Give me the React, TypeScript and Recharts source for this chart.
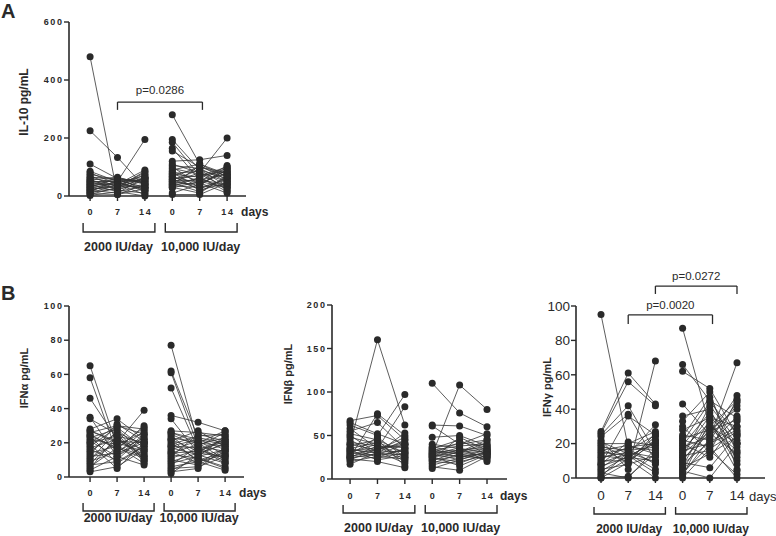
import React from 'react';
import { ScatterChart, Scatter, XAxis, YAxis, ReferenceLine } from 'recharts';

const dayLabels = ['0', '7', '14'];
const groupLabels = ['2000 IU/day', '10,000 IU/day'];
const xTicks = [0, 1, 2, 3, 4, 5];

const il10Ticks = [0, 200, 400, 600];
const ifnaTicks = [0, 20, 40, 60, 80, 100];
const ifnbTicks = [0, 50, 100, 150, 200];
const ifngTicks = [0, 20, 40, 60, 80, 100];

// one row per subject: [day 0, day 7, day 14], pg/mL
const il10Low = [
  [480, 5, 40], [225, 133, 30], [110, 60, 45], [85, 50, 195], [80, 40, 60], [75, 55, 30],
  [70, 30, 85], [65, 60, 20], [62, 45, 70], [58, 20, 55], [55, 65, 40], [52, 35, 80],
  [50, 50, 15], [48, 25, 65], [45, 60, 50], [42, 40, 90], [40, 15, 35], [38, 55, 60],
  [35, 45, 25], [32, 30, 75], [30, 62, 45], [28, 20, 10], [25, 50, 55], [22, 35, 30],
  [20, 10, 65], [18, 45, 20], [15, 55, 50], [12, 25, 40], [10, 40, 5], [8, 5, 25],
  [5, 30, 60], [2, 15, 0],
];
const il10High = [
  [280, 110, 75], [195, 90, 60], [185, 70, 100], [165, 55, 40], [155, 100, 80], [120, 125, 140],
  [110, 80, 200], [105, 95, 50], [100, 40, 90], [95, 75, 30], [90, 110, 65], [85, 50, 105],
  [80, 30, 55], [78, 85, 20], [75, 65, 95], [70, 20, 45], [68, 100, 70], [65, 45, 10],
  [60, 70, 85], [58, 25, 60], [55, 90, 35], [52, 55, 75], [50, 35, 100], [48, 80, 50],
  [45, 15, 65], [42, 60, 25], [40, 45, 80], [38, 105, 55], [35, 30, 40], [32, 65, 15],
  [30, 10, 70], [28, 50, 30], [10, 40, 90], [5, 5, 45],
];

const ifnaLow = [
  [65, 18, 12], [58, 14, 20], [46, 22, 16], [35, 12, 25], [34, 25, 10], [28, 34, 22],
  [27, 20, 39], [26, 30, 28], [25, 16, 30], [24, 8, 18], [23, 28, 14], [22, 19, 26],
  [21, 12, 22], [20, 24, 9], [19, 5, 20], [18, 29, 17], [17, 22, 12], [16, 10, 24],
  [15, 26, 19], [14, 18, 8], [13, 31, 21], [12, 14, 27], [11, 20, 15], [10, 27, 10],
  [9, 15, 23], [8, 22, 13], [7, 9, 18], [6, 17, 11], [5, 24, 20], [4, 12, 7],
  [3, 6, 16], [27, 21, 20], [24, 17, 29], [20, 30, 25],
];
const ifnaHigh = [
  [77, 20, 18], [62, 23, 20], [61, 18, 15], [52, 16, 22], [36, 32, 27], [34, 14, 12],
  [27, 26, 24], [26, 22, 19], [25, 18, 26], [24, 12, 16], [23, 20, 10], [22, 15, 22],
  [21, 27, 18], [20, 10, 14], [19, 24, 25], [18, 17, 8], [17, 13, 20], [16, 21, 13],
  [15, 8, 17], [14, 19, 23], [13, 11, 6], [12, 25, 21], [11, 16, 11], [10, 7, 15],
  [9, 14, 19], [8, 12, 24], [7, 18, 9], [6, 9, 13], [5, 6, 12], [4, 11, 5],
  [3, 5, 17], [2, 13, 8], [26, 20, 27], [22, 9, 4], [18, 22, 16], [14, 15, 21],
];

const ifnbLow = [
  [40, 160, 62], [67, 73, 45], [65, 52, 40], [62, 50, 97], [58, 35, 83], [55, 65, 35],
  [52, 45, 30], [50, 30, 53], [48, 40, 25], [45, 28, 40], [42, 38, 20], [40, 33, 48],
  [38, 45, 15], [36, 25, 35], [35, 42, 30], [34, 30, 45], [33, 22, 27], [32, 36, 38],
  [31, 40, 22], [30, 27, 33], [29, 34, 42], [28, 48, 25], [27, 24, 30], [26, 32, 18],
  [25, 38, 36], [24, 29, 28], [23, 20, 13], [22, 35, 40], [20, 26, 23], [17, 31, 32],
  [25, 75, 50],
];
const ifnbHigh = [
  [110, 76, 60], [28, 108, 80], [62, 61, 50], [61, 40, 45], [48, 50, 38], [40, 35, 30],
  [37, 30, 35], [35, 45, 28], [34, 28, 33], [33, 38, 40], [32, 25, 30], [31, 33, 25],
  [30, 42, 37], [29, 22, 32], [28, 36, 20], [27, 30, 42], [26, 27, 29], [25, 34, 35],
  [24, 20, 27], [23, 48, 33], [22, 26, 24], [21, 32, 38], [20, 18, 30], [18, 29, 22],
  [16, 24, 34], [14, 10, 26], [12, 22, 31], [30, 31, 45], [36, 40, 52], [26, 15, 28],
];

const ifngLow = [
  [95, 18, 20], [27, 61, 43], [26, 56, 42], [25, 42, 15], [24, 37, 10], [8, 36, 25],
  [22, 5, 68], [21, 14, 31], [20, 20, 27], [19, 12, 22], [18, 16, 18], [17, 9, 26],
  [16, 19, 14], [15, 13, 20], [14, 17, 8], [13, 11, 24], [12, 15, 12], [11, 18, 16],
  [10, 10, 21], [9, 14, 5], [8, 21, 19], [7, 12, 10], [6, 16, 25], [5, 8, 13],
  [4, 13, 3], [3, 0, 17], [2, 11, 0], [1, 15, 9], [0, 1, 14], [0, 9, 22],
];
const ifngHigh = [
  [87, 30, 20], [66, 45, 35], [62, 52, 25], [43, 25, 48], [36, 40, 10], [33, 50, 5],
  [30, 15, 46], [28, 35, 30], [25, 22, 44], [24, 47, 15], [23, 28, 40], [22, 18, 0],
  [21, 44, 26], [20, 12, 33], [19, 38, 20], [18, 24, 42], [17, 32, 12], [16, 20, 28],
  [15, 36, 18], [14, 27, 34], [13, 16, 2], [12, 42, 22], [11, 26, 14], [10, 30, 45],
  [9, 6, 25], [8, 21, 30], [7, 34, 8], [6, 14, 24], [5, 29, 16], [4, 0, 20],
  [3, 19, 36], [2, 23, 67], [1, 33, 4], [0, 17, 27],
];

const FONT = '"Liberation Sans", Arial, Helvetica, sans-serif';
const INK = '#2a2a2a';

type Bracket = { x1: number; x2: number; top: number; bottom: number; text: string; offset: number };

type PanelProps = {
  box: { left: number; top: number; width: number; height: number };
  margin: { top: number; right: number; bottom: number; left: number };
  yAxisWidth: number;
  xAxisHeight: number;
  xDomain: [number, number];
  yMax: number;
  yTicks: number[];
  low: number[][];
  high: number[][];
  big?: boolean;
  under: { tickBase: number; brTop: number; brBottom: number; groupBase: number; groupSize: number; daysDx: number };
  brackets?: Bracket[];
};

const toSeries = (rows: number[][], offset: number) =>
  rows.map((r) => r.map((v, i) => ({ x: i + offset, y: v })));

const Dot = (props: any) => <circle cx={props.cx} cy={props.cy} r={3.5} fill={INK} />;

function Panel(p: PanelProps) {
  const plotW = p.box.width - p.margin.left - p.margin.right - p.yAxisWidth;
  const step = plotW / (p.xDomain[1] - p.xDomain[0]);
  const series = [...toSeries(p.low, 0), ...toSeries(p.high, 3)];
  const ls = p.big ? 0 : 1.6;
  const tickFont = p.big
    ? { fontSize: 13.5, fontWeight: 400 }
    : { fontSize: 9, fontWeight: 700, letterSpacing: ls };

  const XTick = (t: any) => {
    const v = t.payload.value as number;
    const axisY = t.y - 5;
    const mid = v % 3 === 1;
    const left = t.x - step - 7;
    const right = t.x + step + 10;
    return (
      <g>
        <text x={t.x + ls / 2} y={axisY + p.under.tickBase} textAnchor="middle" fill={INK} fontFamily={FONT} {...tickFont}>
          {dayLabels[v % 3]}
        </text>
        {mid && (
          <g>
            <path
              d={`M${left},${axisY + p.under.brTop}V${axisY + p.under.brBottom}H${right}V${axisY + p.under.brTop}`}
              fill="none"
              stroke={INK}
              strokeWidth={1.4}
            />
            <text x={t.x + 1} y={axisY + p.under.groupBase} textAnchor="middle" fill={INK} fontFamily={FONT} fontSize={p.under.groupSize} fontWeight={700}>
              {groupLabels[v < 3 ? 0 : 1]}
            </text>
          </g>
        )}
        {v === 5 && (
          <text x={t.x + p.under.daysDx} y={axisY + p.under.tickBase + 1} fill={INK} fontFamily={FONT} fontSize={p.big ? 13 : 12} fontWeight={p.big ? 400 : 700}>
            days
          </text>
        )}
      </g>
    );
  };

  const YTick = (t: any) => (
    <text x={t.x + ls} y={t.y} dy={p.big ? 4.8 : 3.2} textAnchor="end" fill={INK} fontFamily={FONT} {...tickFont}>
      {t.payload.value}
    </text>
  );

  const lineStyle = { stroke: INK, strokeWidth: 1.3 };

  return (
    <div style={{ position: 'absolute', left: p.box.left, top: p.box.top }}>
      <ScatterChart width={p.box.width} height={p.box.height} margin={p.margin}>
        <XAxis
          type="number"
          dataKey="x"
          domain={p.xDomain}
          ticks={xTicks}
          interval={0}
          height={p.xAxisHeight}
          tick={XTick}
          tickSize={5}
          tickMargin={0}
          axisLine={{ stroke: INK, strokeWidth: 1.6 }}
          tickLine={{ stroke: INK, strokeWidth: 1.4 }}
        />
        <YAxis
          type="number"
          dataKey="y"
          domain={[0, p.yMax]}
          ticks={p.yTicks}
          interval={0}
          width={p.yAxisWidth}
          tick={YTick}
          tickSize={5}
          tickMargin={p.big ? 1 : 2}
          axisLine={{ stroke: INK, strokeWidth: 1.6 }}
          tickLine={{ stroke: INK, strokeWidth: 1.4 }}
        />
        {series.map((pts, i) => (
          <Scatter
            key={i}
            data={pts}
            line={{ stroke: '#333', strokeWidth: 0.8 }}
            shape={Dot}
            isAnimationActive={false}
          />
        ))}
        {(p.brackets || []).map((b, i) => [
          <ReferenceLine
            key={`h${i}`}
            segment={[{ x: b.x1, y: b.top }, { x: b.x2, y: b.top }]}
            ifOverflow="visible"
            {...lineStyle}
            label={{ value: b.text, position: 'top', offset: b.offset, fill: INK, fontSize: 11.5, fontFamily: FONT }}
          />,
          <ReferenceLine key={`l${i}`} segment={[{ x: b.x1, y: b.top }, { x: b.x1, y: b.bottom }]} ifOverflow="visible" {...lineStyle} />,
          <ReferenceLine key={`r${i}`} segment={[{ x: b.x2, y: b.top }, { x: b.x2, y: b.bottom }]} ifOverflow="visible" {...lineStyle} />,
        ])}
      </ScatterChart>
    </div>
  );
}

const YTitle = ({ x, y, size, children }: { x: number; y: number; size: number; children: React.ReactNode }) => (
  <text
    transform={`translate(${x},${y}) rotate(-90)`}
    textAnchor="middle"
    dominantBaseline="central"
    fontFamily={FONT}
    fontSize={size}
    fontWeight={700}
    fill={INK}
  >
    {children}
  </text>
);

export default function App() {
  return (
    <div style={{ position: 'absolute', left: 0, top: 0, width: 776, height: 536, background: '#fff', overflow: 'hidden' }}>
      <Panel
        box={{ left: 0, top: 0, width: 280, height: 270 }}
        margin={{ top: 22, right: 34, bottom: 14, left: 24 }}
        yAxisWidth={45}
        xAxisHeight={60}
        xDomain={[-0.77, 5.69]}
        yMax={600}
        yTicks={il10Ticks}
        low={il10Low}
        high={il10High}
        under={{ tickBase: 19, brTop: 27, brBottom: 36, groupBase: 55, groupSize: 12.5, daysDx: 14 }}
        brackets={[{ x1: 1, x2: 4.1, top: 324, bottom: 297, text: 'p=0.0286', offset: 8 }]}
      />
      <Panel
        box={{ left: 0, top: 280, width: 270, height: 256 }}
        margin={{ top: 26, right: 26, bottom: 9, left: 24 }}
        yAxisWidth={45}
        xAxisHeight={50}
        xDomain={[-0.78, 5.7]}
        yMax={100}
        yTicks={ifnaTicks}
        low={ifnaLow}
        high={ifnaHigh}
        under={{ tickBase: 19, brTop: 26, brBottom: 34, groupBase: 45, groupSize: 12.5, daysDx: 14 }}
      />
      <Panel
        box={{ left: 270, top: 280, width: 260, height: 256 }}
        margin={{ top: 25, right: 23, bottom: 2, left: 17 }}
        yAxisWidth={45}
        xAxisHeight={55}
        xDomain={[-0.66, 5.73]}
        yMax={200}
        yTicks={ifnbTicks}
        low={ifnbLow}
        high={ifnbHigh}
        under={{ tickBase: 20, brTop: 26, brBottom: 34, groupBase: 53, groupSize: 12.5, daysDx: 13 }}
      />
      <Panel
        box={{ left: 530, top: 250, width: 246, height: 286 }}
        margin={{ top: 56, right: 11, bottom: 3, left: 4 }}
        yAxisWidth={42}
        xAxisHeight={55}
        xDomain={[-0.92, 6.03]}
        yMax={100}
        yTicks={ifngTicks}
        low={ifngLow}
        high={ifngHigh}
        big
        under={{ tickBase: 22, brTop: 29, brBottom: 36, groupBase: 55, groupSize: 12, daysDx: 12 }}
        brackets={[
          { x1: 1, x2: 4.1, top: 94.8, bottom: 89.5, text: 'p=0.0020', offset: 6 },
          { x1: 2, x2: 5, top: 111.6, bottom: 107, text: 'p=0.0272', offset: 6.5 },
        ]}
      />
      <svg width={776} height={536} style={{ position: 'absolute', left: 0, top: 0, pointerEvents: 'none' }}>
        <text x={1} y={18} fontFamily={FONT} fontSize={20} fontWeight={700} fill={INK}>A</text>
        <text x={1} y={300} fontFamily={FONT} fontSize={20} fontWeight={700} fill={INK}>B</text>
        <YTitle x={24} y={102} size={12}>IL-10 pg/mL</YTitle>
        <YTitle x={24} y={378} size={11}>IFNα pg/mL</YTitle>
        <YTitle x={288} y={374} size={11}>IFNβ pg/mL</YTitle>
        <YTitle x={547} y={387} size={11}>IFNγ pg/mL</YTitle>
      </svg>
    </div>
  );
}
